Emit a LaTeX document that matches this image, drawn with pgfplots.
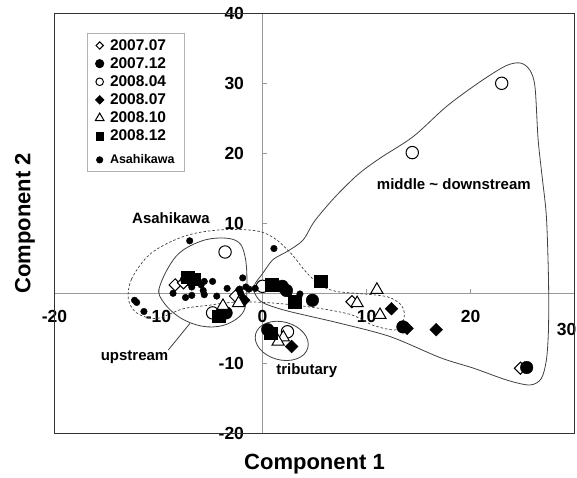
\documentclass[border=0pt]{standalone}
\usepackage{pgfplots}
\pgfplotsset{compat=1.18}
\usepackage{fontspec}
\setmainfont{Liberation Sans}

\newcommand{\lblfont}{\bfseries\fontsize{15}{15}\selectfont}

\begin{document}
\begin{tikzpicture}
\begin{axis}[
  width=520pt, height=420pt, scale only axis,
  xmin=-20, xmax=30, ymin=-20, ymax=40,
  axis lines=middle,
  axis line style={-, black!40, line width=0.6pt},
  hide obscured x ticks=false, hide obscured y ticks=false,
  xtick={-20,-10,0,10,20},
  extra x ticks={30},
  extra x tick style={xticklabel style={anchor=north, xshift=-8pt, yshift=-13pt}},
  ytick={-20,-10,0,10,20,30,40},
  tick align=inside, major tick length=4pt,
  tick style={black!40, line width=0.6pt},
  /pgf/number format/assume math mode=true,
  ticklabel style={font=\bfseries\fontsize{17.5}{17.5}\selectfont},
  xticklabel style={anchor=north, yshift=-13pt},
  yticklabel style={anchor=east, xshift=-15pt},
  clip=false,
  legend cell align=left,
  legend image code/.code={\draw[mark repeat=2,mark phase=2,#1] plot coordinates {(0pt,0pt)(4pt,0pt)(8pt,0pt)};},
  legend style={at={(rel axis cs:0.0625,0.953)}, anchor=north west,
    draw=black!30, line width=0.7pt, inner xsep=8pt, inner ysep=4pt,
    row sep=1.8pt, column sep=4pt, nodes={inner sep=2pt},
    font=\bfseries\fontsize{15.5}{15.5}\selectfont},
]
% frame around the plotting area
\draw[black!80, line width=1.3pt] (rel axis cs:0,0) rectangle (rel axis cs:1,1);
\coordinate (SW) at (rel axis cs:0,0);
\coordinate (NE) at (rel axis cs:1,1);
\coordinate (LX) at (rel axis cs:0.5,0);
\coordinate (LY) at (rel axis cs:0,0.5);

% Asahikawa group (dashed)
\draw[black!75, line width=0.7pt, dash pattern=on 2.5pt off 2pt]
  plot[smooth cycle, tension=0.55] coordinates {
  (-12.9,-0.8) (-12.6,2.0) (-11.1,5.2) (-9.2,7.1) (-6.7,8.5) (-3.6,9.1)
  (-0.5,8.9) (1.2,7.8) (2.8,5.6) (4.1,3.2) (5.5,1.2) (7.0,0.3) (9.0,0.0)
  (12.0,-0.5) (13.4,-1.8) (13.6,-3.6) (12.9,-5.2) (10.7,-4.6) (8.4,-3.0)
  (4.3,-1.9) (0.1,-1.3) (-3.0,-1.3) (-5.1,-1.7) (-7.6,-2.2) (-10.2,-3.6)
  (-12.1,-2.8)};

% upstream group
\draw[black!75, line width=0.8pt]
  plot[smooth cycle, tension=0.6] coordinates {
  (-9.9,0.9) (-9.5,-1.3) (-7.9,-3.5) (-5.8,-4.7) (-3.8,-4.6) (-2.2,-3.3)
  (-1.6,-1.5) (-1.5,2.4) (-1.7,5.4) (-2.3,7.3) (-3.8,7.9) (-6.0,7.4)
  (-8.3,5.3)};
\draw[black!75, line width=0.8pt] (-6.97,-4.29) -- (-9.06,-8.1);

% middle ~ downstream group
\draw[black!75, line width=0.8pt]
  plot[smooth cycle, tension=0.5] coordinates {
  (-0.85,0.4) (-0.3,-1.0) (0.6,-1.7) (2.6,-2.6) (7.5,-4.3) (12.3,-6.2)
  (17.1,-9.2) (20.3,-10.7) (23.5,-12.4) (25.7,-13.1) (26.8,-12.2)
  (27.3,-9.5) (27.5,-5.0) (27.5,2.0) (27.3,10.9) (26.9,16.5) (26.5,22.0)
  (26.2,29.5) (25.7,31.9) (24.8,32.9) (23.4,32.5) (20.9,30.2) (17.7,26.7)
  (14.5,22.4) (11.3,19.3) (9.2,17.0) (7.0,13.8) (5.0,10.3) (3.9,7.6)
  (2.4,6.0) (1.0,4.8) (0.0,2.8) (-0.7,1.4)};

% tributary group
\draw[black!75, line width=0.8pt, rotate around={-15:(axis cs:1.85,-6.8)}]
  (axis cs:1.85,-6.8) ellipse [x radius=27pt, y radius=19pt];

\addplot[only marks, mark=square*, mark size=4.3pt,
  mark options={rotate=45, fill=white, draw=black, line width=1pt},
  legend image post style={mark size=2.6pt}]
  coordinates {(-8.4,1.2) (-7.6,1.5) (-2.6,-0.4) (8.6,-1.2) (24.8,-10.7)};
\addlegendentry{2007.07}

\addplot[only marks, mark=*, mark size=6.3pt,
  mark options={fill=black, draw=black},
  legend image post style={mark size=4.2pt}]
  coordinates {(-3.5,-2.8) (1.9,1.0) (2.3,0.4) (4.8,-1.0) (13.5,-4.8)
               (25.4,-10.6) (0.5,-5.2)};
\addlegendentry{2007.12}

\addplot[only marks, mark=*, mark size=6.2pt,
  mark options={fill=white, draw=black, line width=1pt},
  legend image post style={mark size=3.8pt}]
  coordinates {(-3.6,5.9) (0.0,1.0) (-4.8,-2.8) (2.4,-5.5) (14.4,20.1)
               (23.0,30.0)};
\addlegendentry{2008.04}

\addplot[only marks, mark=square*, mark size=4.5pt,
  mark options={rotate=45, fill=black, draw=black},
  legend image post style={mark size=3pt}]
  coordinates {(-1.8,-1.0) (12.4,-2.2) (13.9,-5.0) (16.7,-5.2) (2.8,-7.6)};
\addlegendentry{2008.07}

\addplot[only marks, mark=triangle*, mark size=7pt,
  mark options={fill=white, draw=black, line width=1pt},
  legend image post style={mark size=5pt}]
  coordinates {(-3.8,-1.8) (-2.3,-1.4) (9.1,-1.4) (11.0,0.5) (11.3,-3.1)
               (2.0,-6.3) (1.5,-6.9)};
\addlegendentry{2008.10}

\addplot[only marks, mark=square*, mark size=6.3pt,
  mark options={fill=black, draw=black},
  legend image post style={mark size=3.7pt}]
  coordinates {(-7.2,2.3) (-6.6,2.0) (-4.2,-3.3) (0.9,1.2) (3.1,-1.2)
               (5.6,1.7) (0.8,-5.7)};
\addlegendentry{2008.12}

\addplot[only marks, mark=*, mark size=3.3pt,
  mark options={fill=black, draw=black},
  legend image post style={mark size=3.2pt, yshift=-3.3pt}]
  coordinates {(-7.0,7.5) (1.1,6.4) (-12.3,-1.0) (-12.1,-1.3) (-11.4,-2.6)
               (-8.6,0.0) (-7.4,-0.6) (-6.8,-0.3) (-6.8,0.9) (-7.6,2.0)
               (-5.9,1.2) (-5.6,1.7) (-4.8,1.7) (-5.7,0.4) (-5.6,-0.2)
               (-4.4,-0.4) (-3.4,0.7) (-1.9,2.2) (-2.2,0.6) (-1.6,0.9)
               (-1.3,0.6) (-0.7,0.7) (-2.1,0.0) (2.5,0.0) (3.6,-0.1)};
\addlegendentry{\rule{0pt}{15.4pt}\fontsize{12.5}{12.5}\selectfont Asahikawa\hspace{7pt}}

% group labels
\node[font=\lblfont] at (axis cs:-8.8,10.7) {Asahikawa};
\node[font=\lblfont] at (axis cs:18.4,15.6) {middle \textasciitilde{} downstream};
\node[font=\lblfont] at (axis cs:-12.3,-9.1) {upstream};
\node[font=\lblfont] at (axis cs:4.25,-11.0) {tributary};
\end{axis}

\node[font=\bfseries\fontsize{22}{22}\selectfont] at ([yshift=-30.7pt]LX) {Component 1};
\node[font=\bfseries\fontsize{22}{22}\selectfont, rotate=90] at ([xshift=-29.5pt]LY) {Component 2};

\pgfresetboundingbox
\useasboundingbox ([xshift=-54.5pt,yshift=-44.7pt]SW) rectangle ([xshift=2.5pt,yshift=13.3pt]NE);
\end{tikzpicture}
\end{document}
